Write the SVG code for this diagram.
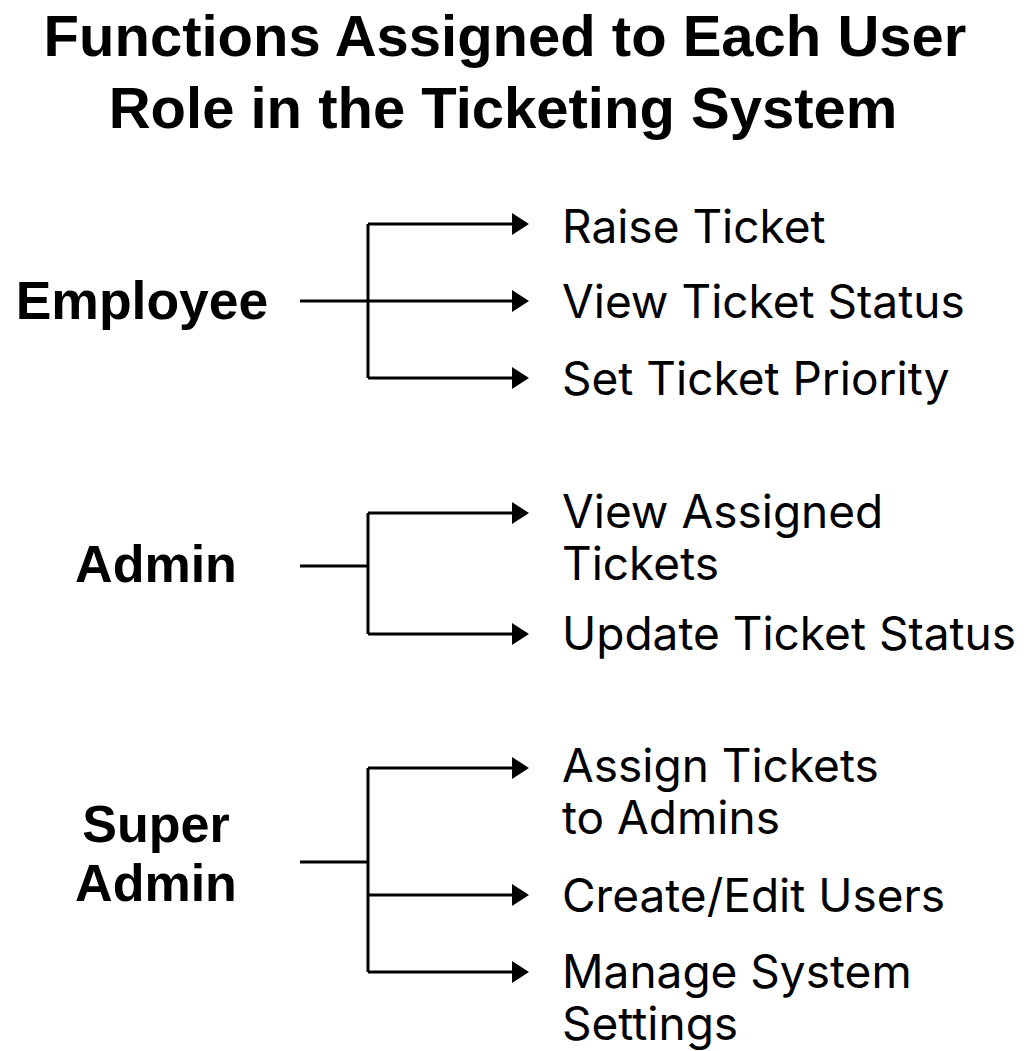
<svg xmlns="http://www.w3.org/2000/svg" width="1030" height="1051" viewBox="0 0 1030 1051">
<style>
.title{font-family:"Liberation Sans",Arial,sans-serif;font-weight:bold;font-size:58px;fill:#000;text-anchor:middle}
.role{font-family:"Liberation Sans",Arial,sans-serif;font-weight:bold;font-size:52px;fill:#000;text-anchor:middle}
.fn{font-family:Inter,"Noto Sans",sans-serif;font-size:46px;fill:#000}
.ln{fill:none;stroke:#000;stroke-width:3}
.ar{fill:none;stroke:#000;stroke-width:3;marker-end:url(#head)}
</style>
<defs>
<marker id="head" viewBox="0 0 17 22" refX="2" refY="11" markerWidth="17" markerHeight="22" markerUnits="userSpaceOnUse" orient="auto">
<path d="M0,0 L17,11 L0,22 Z" fill="#000"/>
</marker>
</defs>
<rect width="1030" height="1051" fill="#fff"/>
<g id="title">
<text class="title" x="505" y="56">Functions Assigned to Each User</text>
<text class="title" x="503" y="128">Role in the Ticketing System</text>
</g>
<g id="employee"><text class="role" x="142" y="319" style="font-size:53.5px">Employee</text></g>
<g id="admin"><text class="role" x="156" y="582">Admin</text></g>
<g id="super-admin"><text class="role" y="842"><tspan x="156">Super</tspan><tspan x="156" dy="59">Admin</tspan></text></g>
<g id="raise-ticket"><text class="fn" x="562" y="243">Raise Ticket</text></g>
<g id="view-ticket-status"><text class="fn" x="562" y="318">View Ticket Status</text></g>
<g id="set-ticket-priority"><text class="fn" x="562" y="395">Set Ticket Priority</text></g>
<g id="view-assigned-tickets"><text class="fn" y="528"><tspan x="562">View Assigned</tspan><tspan x="562" dy="52">Tickets</tspan></text></g>
<g id="update-ticket-status"><text class="fn" x="562" y="650">Update Ticket Status</text></g>
<g id="assign-tickets"><text class="fn" y="782"><tspan x="562">Assign Tickets</tspan><tspan x="562" dy="52">to Admins</tspan></text></g>
<g id="create-edit-users"><text class="fn" x="562" y="912">Create/Edit Users</text></g>
<g id="manage-settings"><text class="fn" y="988"><tspan x="562">Manage System</tspan><tspan x="562" dy="52">Settings</tspan></text></g>
<g id="connectors">
<path class="ln" d="M368,224 V378"/>
<path class="ar" d="M368,224 H514"/>
<path class="ar" d="M300,301 H514"/>
<path class="ar" d="M368,378 H514"/>
<path class="ln" d="M300,566 H368 M368,513 V634"/>
<path class="ar" d="M368,513 H514"/>
<path class="ar" d="M368,634 H514"/>
<path class="ln" d="M300,862 H368 M368,768 V972"/>
<path class="ar" d="M368,768 H514"/>
<path class="ar" d="M368,895 H514"/>
<path class="ar" d="M368,972 H514"/>
</g>
</svg>
